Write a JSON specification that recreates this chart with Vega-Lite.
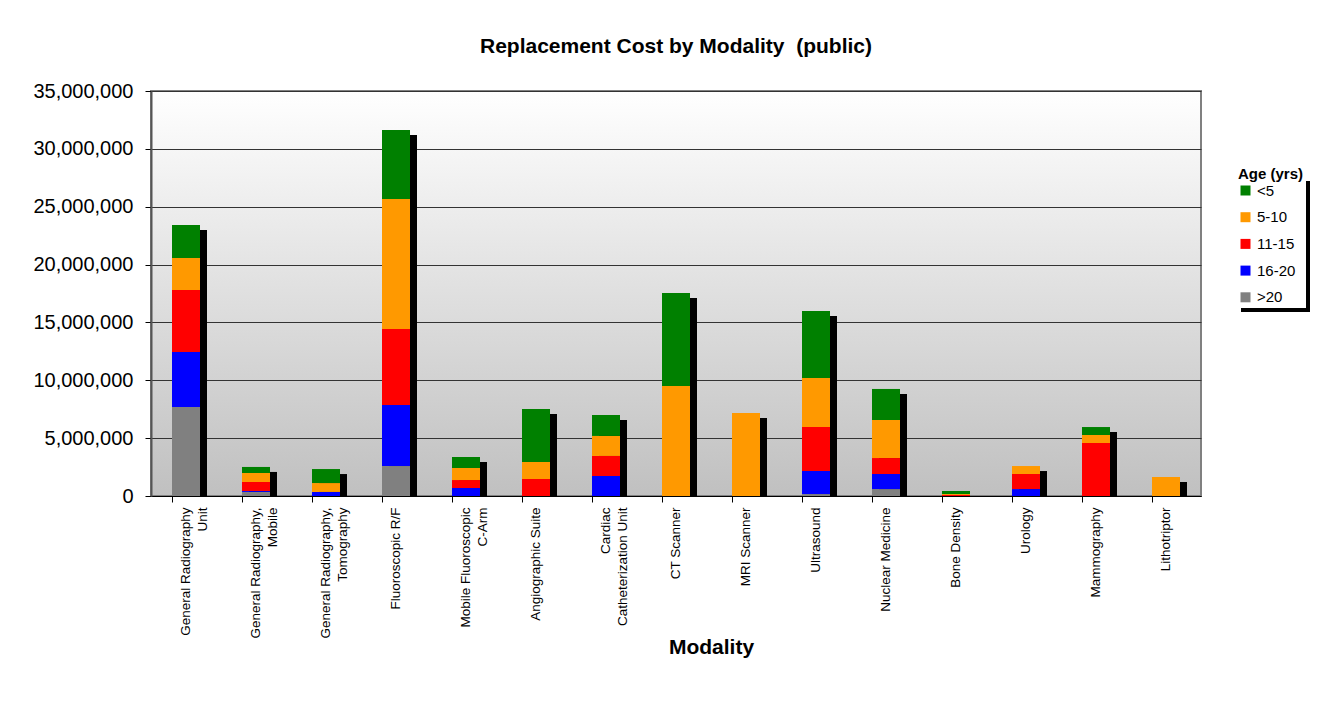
{
  "$schema": "https://vega.github.io/schema/vega-lite/v6.json",
  "width": 1050,
  "height": 405,
  "autosize": "none",
  "padding": {"left": 151, "top": 91, "right": 129, "bottom": 217},
  "background": "white",
  "title": {
    "text": "Replacement Cost by Modality\u00a0 (public)",
    "font": "Liberation Sans",
    "fontSize": 21,
    "fontWeight": "bold",
    "color": "black",
    "offset": 24
  },
  "data": {
    "values": [
      {"modality": "General Radiography\nUnit", "age": ">20", "cost": 7690000},
      {"modality": "General Radiography\nUnit", "age": "16-20", "cost": 4750000},
      {"modality": "General Radiography\nUnit", "age": "11-15", "cost": 5360000},
      {"modality": "General Radiography\nUnit", "age": "5-10", "cost": 2770000},
      {"modality": "General Radiography\nUnit", "age": "<5", "cost": 2850000},
      {"modality": "General Radiography,\nMobile", "age": ">20", "cost": 350000},
      {"modality": "General Radiography,\nMobile", "age": "16-20", "cost": 80000},
      {"modality": "General Radiography,\nMobile", "age": "11-15", "cost": 780000},
      {"modality": "General Radiography,\nMobile", "age": "5-10", "cost": 780000},
      {"modality": "General Radiography,\nMobile", "age": "<5", "cost": 520000},
      {"modality": "General Radiography,\nTomography", "age": "16-20", "cost": 350000},
      {"modality": "General Radiography,\nTomography", "age": "5-10", "cost": 770000},
      {"modality": "General Radiography,\nTomography", "age": "<5", "cost": 1210000},
      {"modality": "Fluoroscopic R/F", "age": ">20", "cost": 2590000},
      {"modality": "Fluoroscopic R/F", "age": "16-20", "cost": 5270000},
      {"modality": "Fluoroscopic R/F", "age": "11-15", "cost": 6570000},
      {"modality": "Fluoroscopic R/F", "age": "5-10", "cost": 11240000},
      {"modality": "Fluoroscopic R/F", "age": "<5", "cost": 5960000},
      {"modality": "Mobile Fluoroscopic\nC-Arm", "age": "16-20", "cost": 690000},
      {"modality": "Mobile Fluoroscopic\nC-Arm", "age": "11-15", "cost": 690000},
      {"modality": "Mobile Fluoroscopic\nC-Arm", "age": "5-10", "cost": 1040000},
      {"modality": "Mobile Fluoroscopic\nC-Arm", "age": "<5", "cost": 950000},
      {"modality": "Angiographic Suite", "age": "11-15", "cost": 1470000},
      {"modality": "Angiographic Suite", "age": "5-10", "cost": 1470000},
      {"modality": "Angiographic Suite", "age": "<5", "cost": 4580000},
      {"modality": "Cardiac\nCatheterization Unit", "age": "16-20", "cost": 1730000},
      {"modality": "Cardiac\nCatheterization Unit", "age": "11-15", "cost": 1730000},
      {"modality": "Cardiac\nCatheterization Unit", "age": "5-10", "cost": 1730000},
      {"modality": "Cardiac\nCatheterization Unit", "age": "<5", "cost": 1810000},
      {"modality": "CT Scanner", "age": "5-10", "cost": 9500000},
      {"modality": "CT Scanner", "age": "<5", "cost": 8040000},
      {"modality": "MRI Scanner", "age": "5-10", "cost": 7170000},
      {"modality": "Ultrasound", "age": ">20", "cost": 170000},
      {"modality": "Ultrasound", "age": "16-20", "cost": 1990000},
      {"modality": "Ultrasound", "age": "11-15", "cost": 3800000},
      {"modality": "Ultrasound", "age": "5-10", "cost": 4240000},
      {"modality": "Ultrasound", "age": "<5", "cost": 5790000},
      {"modality": "Nuclear Medicine", "age": ">20", "cost": 600000},
      {"modality": "Nuclear Medicine", "age": "16-20", "cost": 1300000},
      {"modality": "Nuclear Medicine", "age": "11-15", "cost": 1380000},
      {"modality": "Nuclear Medicine", "age": "5-10", "cost": 3290000},
      {"modality": "Nuclear Medicine", "age": "<5", "cost": 2680000},
      {"modality": "Bone Density", "age": "11-15", "cost": 90000},
      {"modality": "Bone Density", "age": "5-10", "cost": 80000},
      {"modality": "Bone Density", "age": "<5", "cost": 260000},
      {"modality": "Urology", "age": "16-20", "cost": 600000},
      {"modality": "Urology", "age": "11-15", "cost": 1300000},
      {"modality": "Urology", "age": "5-10", "cost": 690000},
      {"modality": "Mammography", "age": "11-15", "cost": 4580000},
      {"modality": "Mammography", "age": "5-10", "cost": 690000},
      {"modality": "Mammography", "age": "<5", "cost": 690000},
      {"modality": "Lithotriptor", "age": "5-10", "cost": 1640000}
    ]
  },
  "transform": [
    {"calculate": "indexof(['>20', '16-20', '11-15', '5-10', '<5'], datum.age)", "as": "stackOrder"}
  ],
  "layer": [
    {
      "mark": {"type": "bar", "color": "black", "xOffset": 7, "yOffset": 5, "clip": true},
      "encoding": {
        "x": {
          "field": "modality",
          "type": "nominal",
          "sort": null,
          "scale": {"paddingInner": 0.6, "paddingOuter": 0.3},
          "axis": {
            "orient": "bottom",
            "title": null,
            "labels": false,
            "domain": false,
            "grid": false,
            "ticks": true,
            "tickSize": 6,
            "tickColor": "black",
            "bandPosition": 0
          }
        },
        "y": {"aggregate": "sum", "field": "cost", "type": "quantitative"}
      }
    },
    {
      "mark": {"type": "bar"},
      "encoding": {
        "x": {
          "field": "modality",
          "type": "nominal",
          "sort": null,
          "axis": {
            "orient": "bottom",
            "title": "Modality",
            "titleFont": "Liberation Sans",
            "titleFontSize": 21,
            "titleFontWeight": "bold",
            "titleColor": "black",
            "titlePadding": -2,
            "titleX": 560,
            "labelExpr": "split(datum.label, '\\n')",
            "labelAngle": 270,
            "labelAlign": "right",
            "labelBaseline": "middle",
            "labelFont": "Liberation Sans",
            "labelFontSize": 13.5,
            "labelLineHeight": 16.5,
            "labelColor": "black",
            "labelPadding": 11,
            "labelLimit": 300,
            "ticks": false,
            "domain": true,
            "domainColor": "black",
            "domainWidth": 1
          }
        },
        "y": {
          "field": "cost",
          "type": "quantitative",
          "stack": "zero",
          "scale": {"domain": [0, 35000000], "nice": false},
          "axis": {
            "title": null,
            "values": [0, 5000000, 10000000, 15000000, 20000000, 25000000, 30000000, 35000000],
            "format": ",d",
            "labelFont": "Liberation Sans",
            "labelFontSize": 20,
            "labelColor": "black",
            "labelPadding": 12,
            "tickSize": 6,
            "tickColor": "black",
            "domainColor": "#555555",
            "domainWidth": 2,
            "grid": true,
            "gridColor": "#333333",
            "gridWidth": 1
          }
        },
        "color": {
          "field": "age",
          "type": "nominal",
          "scale": {
            "domain": ["<5", "5-10", "11-15", "16-20", ">20"],
            "range": ["#008000", "#ff9900", "#ff0000", "#0000ff", "#808080"]
          },
          "legend": {
            "orient": "none",
            "legendX": 1083,
            "legendY": 72,
            "padding": 4,
            "title": "Age (yrs)",
            "titleFont": "Liberation Sans",
            "titleFontSize": 15,
            "titleFontWeight": "bold",
            "titleColor": "black",
            "titlePadding": 1,
            "labelFont": "Liberation Sans",
            "labelFontSize": 15,
            "labelColor": "black",
            "labelOffset": 4,
            "symbolType": "square",
            "symbolSize": 100,
            "symbolStrokeWidth": 0,
            "rowPadding": 10.7,
            "strokeColor": "black",
            "encode": {
              "legend": {
                "update": {
                  "strokeWidth": {"value": 4},
                  "strokeDash": {"value": [0, 92, 196, 154]}
                }
              }
            }
          }
        },
        "order": {"field": "stackOrder", "type": "quantitative"}
      }
    }
  ],
  "resolve": {"axis": {"x": "independent"}},
  "config": {
    "font": "Liberation Sans",
    "view": {
      "fill": {
        "gradient": "linear",
        "x1": 0, "y1": 0, "x2": 0, "y2": 1,
        "stops": [
          {"offset": 0, "color": "#ffffff"},
          {"offset": 1, "color": "#c0c0c0"}
        ]
      },
      "stroke": "#808080",
      "strokeWidth": 2
    }
  }
}
